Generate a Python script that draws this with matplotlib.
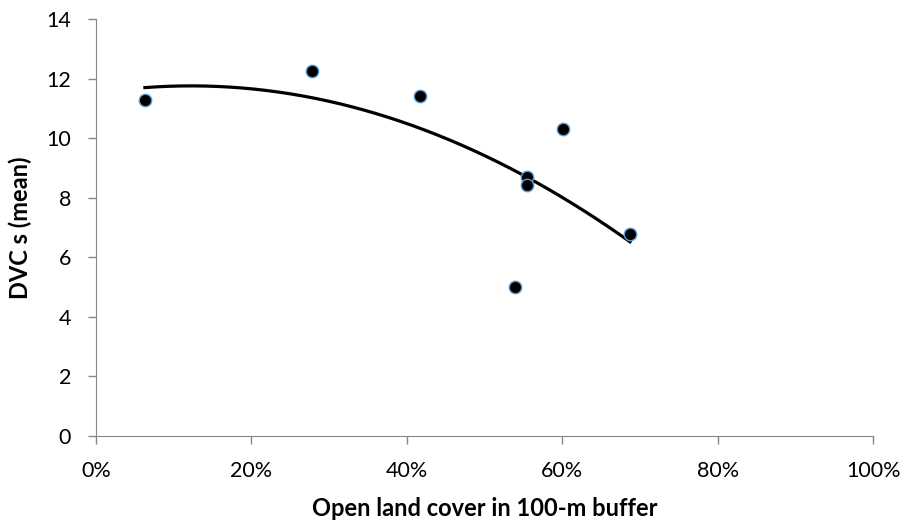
import numpy as np
import matplotlib.pyplot as plt
from matplotlib.ticker import PercentFormatter

plt.rcParams['font.family'] = ['Lato', 'DejaVu Sans']
plt.rcParams['font.size'] = 15.5

# open land cover (fraction) and DVC s (mean)
open_land = [0.063, 0.278, 0.417, 0.601, 0.555, 0.554, 0.687, 0.539]
dvc_mean = [11.30, 12.28, 11.44, 10.31, 8.69, 8.43, 6.78, 5.02]

x_ticks = [0, 0.2, 0.4, 0.6, 0.8, 1.0]
y_ticks = [0, 2, 4, 6, 8, 10, 12, 14]

fig = plt.figure(figsize=(9.05, 5.27), dpi=100)
ax = fig.add_axes([0.106, 0.173, 0.859, 0.79])

ax.scatter(open_land, dvc_mean, s=80, c='black', edgecolors='#5b9bd5',
           linewidths=1.0, zorder=3)

# polynomial (order 2) trendline, like Excel
coef = np.polyfit(open_land, dvc_mean, 2)
xs = np.linspace(min(open_land), max(open_land), 200)
ax.plot(xs, np.polyval(coef, xs), color='black', lw=2.3, zorder=2)

ax.set_xlim(0, 1.0)
ax.set_ylim(0, 14)
ax.set_xticks(x_ticks)
ax.set_yticks(y_ticks)
ax.xaxis.set_major_formatter(PercentFormatter(1.0, decimals=0))

for s in ['top', 'right']:
    ax.spines[s].set_visible(False)
for s in ['left', 'bottom']:
    ax.spines[s].set_color('#868686')
ax.tick_params(colors='#868686', labelcolor='black', length=6, width=1,
               direction='out')
ax.tick_params(axis='x', pad=12)
ax.tick_params(axis='y', pad=12)

ax.set_xlabel('Open land cover in 100-m buffer', fontweight='bold',
              fontsize=17, labelpad=12)
ax.set_ylabel('DVC s (mean)', fontweight='bold', fontsize=17, labelpad=10)

fig.savefig('out.png', dpi=100)
